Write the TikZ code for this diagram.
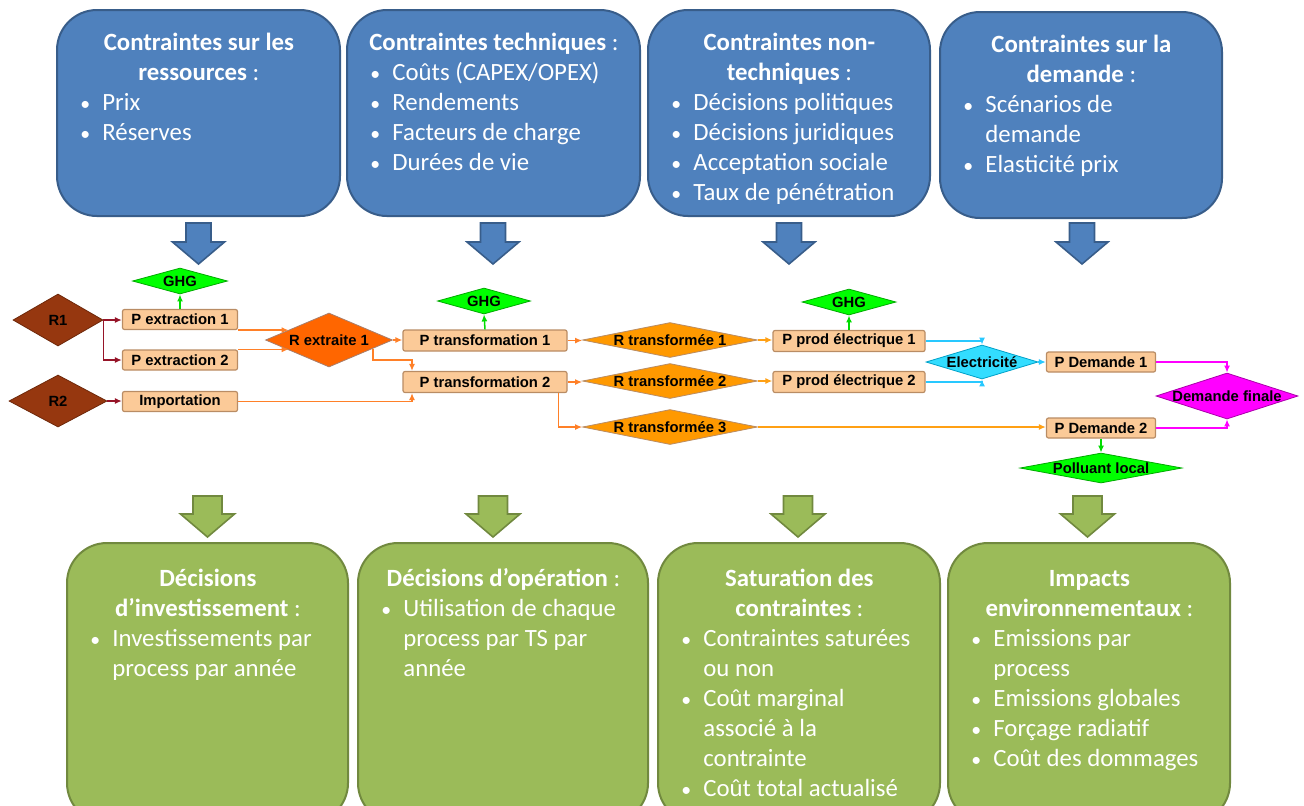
\documentclass[tikz,border=0pt]{standalone}
\usepackage{fontspec}
\setmainfont{Carlito}
\newfontfamily\dfont{Liberation Sans}
\usetikzlibrary{shapes.geometric,arrows.meta,calc}
\definecolor{bfill}{RGB}{79,129,189}
\definecolor{bline}{RGB}{56,93,138}
\definecolor{gfill}{RGB}{155,187,89}
\definecolor{gline}{RGB}{113,137,63}
\definecolor{pfill}{RGB}{251,202,152}
\definecolor{pline}{RGB}{185,140,100}
\definecolor{brown}{RGB}{150,55,15}
\definecolor{brline}{RGB}{110,40,10}
\definecolor{rxfill}{RGB}{255,102,0}
\definecolor{rtfill}{RGB}{255,153,0}
\definecolor{ghg}{RGB}{0,255,0}
\definecolor{ghgline}{RGB}{0,170,0}
\definecolor{elec}{RGB}{51,221,255}
\definecolor{elline}{RGB}{0,160,200}
\definecolor{dfin}{RGB}{255,0,255}
\definecolor{dfline}{RGB}{170,0,170}
\definecolor{cred}{RGB}{150,20,40}
\definecolor{cor}{RGB}{255,128,40}
\definecolor{cyo}{RGB}{255,160,20}
\definecolor{ccy}{RGB}{40,200,255}
\definecolor{cmg}{RGB}{255,0,255}
\definecolor{cgr}{RGB}{0,220,0}
\newcommand{\bul}{\makebox[11.5pt][l]{\hspace{0.5pt}\scalebox{0.8}{•}}}
\newcommand{\tl}[1]{\makebox[\linewidth]{#1}\par}
\newcommand{\bxt}[2]{\begin{minipage}[t]{#1}\fontsize{12.4}{15}\selectfont\raggedright\leavevmode\color{white}#2\end{minipage}}
\newcommand{\blockdown}[7]{\draw[#7] (#1-#5,#2) -- (#1+#5,#2) -- (#1+#5,#3) -- (#1+#6,#3) -- (#1,#4) -- (#1-#6,#3) -- (#1-#5,#3) -- cycle;}
\tikzset{
  bluebox/.style={draw=bline, fill=bfill, line width=1pt, rounded corners=20pt},
  greenbox/.style={draw=gline, fill=gfill, line width=1pt, rounded corners=20pt},
  btxt/.style={inner sep=0pt, anchor=base west},
  barrow/.style={draw=bline, fill=bfill, line width=0.8pt},
  garrow/.style={draw=gline, fill=gfill, line width=0.8pt},
  pbox/.style={rectangle, draw=pline, fill=pfill, line width=0.6pt, rounded corners=1pt, inner sep=0pt, font=\dfont\bfseries\fontsize{7.4}{8}\selectfont},
  dmd/.style={diamond, inner sep=0pt, line width=0.4pt, font=\dfont\bfseries\fontsize{7.4}{8}\selectfont},
  arr/.style={line width=0.75pt, -{Latex[length=3.5pt,width=3pt]}},
}
\begin{document}
\begin{tikzpicture}[x=0.5pt,y=-0.5pt]
\useasboundingbox (0,0) rectangle (1304,805);
\clip (0,0) rectangle (1304,805);
% ---- top blue boxes
\node[bluebox, minimum width=141.5pt, minimum height=103pt] (B1) at (198.5,113) {};
\node[bluebox, minimum width=146.5pt, minimum height=103pt] (B2) at (493.5,113) {};
\node[bluebox, minimum width=141pt, minimum height=103pt] (B3) at (789,113) {};
\node[bluebox, minimum width=141pt, minimum height=103pt] (B4) at (1081,115) {};
\node[btxt] (T1) at (79,50) {\bxt{119.5pt}{\tl{\textbf{Contraintes sur les}}\tl{\textbf{ressources} :}\bul Prix\\\bul Réserves}};
\node[btxt] (T2) at (369,50) {\bxt{124.5pt}{\tl{\textbf{Contraintes techniques} :}\bul Coûts (CAPEX/OPEX)\\\bul Rendements\\\bul Facteurs de charge\\\bul Durées de vie}};
\node[btxt] (T3) at (670,50) {\bxt{119pt}{\tl{\textbf{Contraintes non-}}\tl{\textbf{techniques} :}\bul Décisions politiques\\\bul Décisions juridiques\\\bul Acceptation sociale\\\bul Taux de pénétration}};
\node[btxt] (T4) at (962,52) {\bxt{119pt}{\tl{\textbf{Contraintes sur la}}\tl{\textbf{demande} :}\bul Scénarios de\\\hspace*{11.5pt}demande\\\bul Elasticité prix}};
% ---- blue arrows
\blockdown{198.5}{223}{242}{264}{12.5}{26}{barrow}
\blockdown{493}{223}{242}{264}{12.5}{26}{barrow}
\blockdown{789}{223}{242}{264}{12.5}{26}{barrow}
\blockdown{1082}{223}{242}{264}{12.5}{26}{barrow}
% ---- green arrows
\blockdown{207.5}{496}{514}{537}{14.5}{27}{garrow}
\blockdown{493}{496}{514}{537}{14.5}{27}{garrow}
\blockdown{798}{496}{514}{537}{14.5}{27}{garrow}
\blockdown{1087.5}{496}{514}{537}{14.5}{27}{garrow}
% ---- bottom green boxes
\node[greenbox, minimum width=140.5pt, minimum height=140pt] (G1) at (207.5,683) {};
\node[greenbox, minimum width=145pt, minimum height=140pt] (G2) at (503,683) {};
\node[greenbox, minimum width=141pt, minimum height=140pt] (G3) at (799,683) {};
\node[greenbox, minimum width=141pt, minimum height=140pt] (G4) at (1089,683) {};
\node[btxt] (U1) at (89,586) {\bxt{118.5pt}{\tl{\textbf{Décisions}}\tl{\textbf{d’investissement} :}\bul Investissements par\\\hspace*{11.5pt}process par année}};
\node[btxt] (U2) at (380,586) {\bxt{123pt}{\tl{\textbf{Décisions d’opération} :}\bul Utilisation de chaque\\\hspace*{11.5pt}process par TS par\\\hspace*{11.5pt}année}};
\node[btxt] (U3) at (680,586) {\bxt{119pt}{\tl{\textbf{Saturation des}}\tl{\textbf{contraintes} :}\bul Contraintes saturées\\\hspace*{11.5pt}ou non\\\bul Coût marginal\\\hspace*{11.5pt}associé à la\\\hspace*{11.5pt}contrainte\\\bul Coût total actualisé}};
\node[btxt] (U4) at (970,586) {\bxt{119pt}{\tl{\textbf{Impacts}}\tl{\textbf{environnementaux} :}\bul Emissions par\\\hspace*{11.5pt}process\\\bul Emissions globales\\\bul Forçage radiatif\\\bul Coût des dommages}};
% ---- process diagram nodes
\node[dmd, fill=brown, draw=brline, minimum width=45pt, minimum height=26pt] (R1) at (58,320) {\makebox[0pt]{R1}};
\node[dmd, fill=brown, draw=brline, minimum width=49pt, minimum height=26pt] (R2) at (58,401) {\makebox[0pt]{R2}};
\node[dmd, fill=ghg, draw=ghgline, minimum width=47.5pt, minimum height=13pt] (GHG1) at (180,281) {\makebox[0pt]{GHG}};
\node[pbox, minimum width=57.5pt, minimum height=10pt] (Pe1) at (180,319.5) {P extraction 1};
\node[pbox, minimum width=57.5pt, minimum height=10pt] (Pe2) at (180,360) {P extraction 2};
\node[pbox, minimum width=57.5pt, minimum height=10pt] (Imp) at (180,401.5) {Importation};
\node[dmd, fill=rxfill, draw=brline!60, minimum width=63.5pt, minimum height=27pt] (Rx) at (329,340) {\makebox[0pt]{R extraite 1}};
\node[pbox, minimum width=82pt, minimum height=10.5pt] (PT1) at (485,340.5) {P transformation 1};
\node[pbox, minimum width=82pt, minimum height=10.5pt] (PT2) at (485,382) {P transformation 2};
\node[dmd, fill=ghg, draw=ghgline, minimum width=46.5pt, minimum height=13pt] (GHG2) at (484,301) {\makebox[0pt]{GHG}};
\node[dmd, fill=rtfill, draw=pline, minimum width=87.5pt, minimum height=17.5pt] (RT1) at (670,340) {\makebox[0pt]{R transformée 1}};
\node[dmd, fill=rtfill, draw=pline, minimum width=87.5pt, minimum height=17.5pt] (RT2) at (670,381) {\makebox[0pt]{R transformée 2}};
\node[dmd, fill=rtfill, draw=pline, minimum width=87.5pt, minimum height=17.5pt] (RT3) at (670,427) {\makebox[0pt]{R transformée 3}};
\node[pbox, minimum width=76pt, minimum height=10.5pt] (PE1) at (849,341) {P prod électrique 1};
\node[pbox, minimum width=76pt, minimum height=10.5pt] (PE2) at (849,382) {P prod électrique 2};
\node[dmd, fill=ghg, draw=ghgline, minimum width=47pt, minimum height=13pt] (GHG3) at (849,302) {\makebox[0pt]{GHG}};
\node[dmd, fill=elec, draw=elline, minimum width=56pt, minimum height=17pt] (El) at (982,362) {\makebox[0pt]{Electricité}};
\node[pbox, minimum width=54.5pt, minimum height=10pt] (PD1) at (1101,362) {P Demande 1};
\node[pbox, minimum width=54.5pt, minimum height=10pt] (PD2) at (1101,428) {P Demande 2};
\node[dmd, fill=dfin, draw=dfline, minimum width=71pt, minimum height=23pt] (DF) at (1227,396) {\makebox[0pt]{Demande finale}};
\node[dmd, fill=ghg, draw=ghgline, minimum width=81pt, minimum height=15pt] (PL) at (1101,468) {\makebox[0pt]{Polluant local}};
\coordinate (k1) at (412,360);
% ---- connectors
\draw[arr, cred] (R1.east) -- (R1.east -| Pe1.west);
\draw[arr, cred] (R1.east) |- (Pe2.west);
\draw[arr, cred] (R2.east) -- (R2.east -| Imp.west);
\draw[arr, cgr] (Pe1.north) -- (GHG1.south);
\draw[arr, cor] (Pe1.south east) -- (Pe1.south east -| Rx.166);
\draw[arr, cor] (Pe2.north east) -- (Pe2.north east -| Rx.194);
\draw[arr, cor] (Rx.east) -- (Rx.east -| PT1.west);
\draw[arr, cor] (Rx.-11) |- (k1) -- (k1 |- PT2.north);
\draw[arr, cor] (Imp.east) -| (k1 |- PT2.south);
\draw[arr, cgr] (PT1.north) -- (GHG2.south);
\draw[arr, cor] (PT1.east) -- (PT1.east -| RT1.west);
\draw[arr, cor] (PT2.east) -- (PT2.east -| RT2.west);
\draw[arr, cor] ($(PT2.south east)+(-9,0)$) |- (RT3.west);
\draw[arr, cyo] (RT1.east) -- (RT1.east -| PE1.west);
\draw[arr, cyo] (RT2.east) -- (RT2.east -| PE2.west);
\draw[arr, cyo] (RT3.east) -- (RT3.east -| PD2.west);
\draw[arr, cgr] (PE1.north) -- (GHG3.south);
\draw[arr, ccy] (PE1.east) -| (El.north);
\draw[arr, ccy] (PE2.east) -| (El.south);
\draw[arr, ccy] (El.east) -- (El.east -| PD1.west);
\draw[arr, cmg] (PD1.east) -| (DF.north);
\draw[arr, cmg] (PD2.east) -| (DF.south);
\draw[arr, cgr] (PD2.south) -- (PL.north);
\end{tikzpicture}
\end{document}
